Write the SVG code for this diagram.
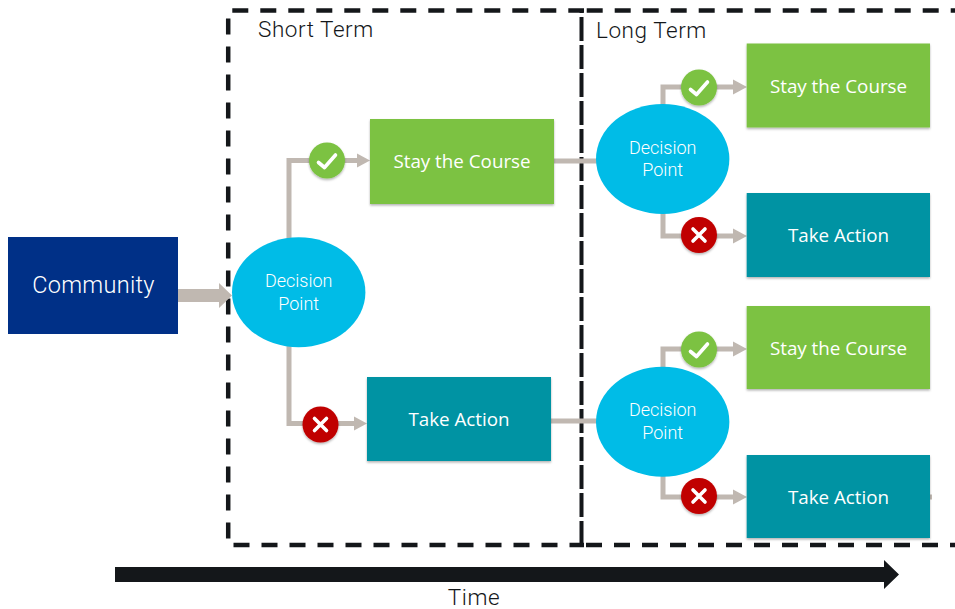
<svg xmlns="http://www.w3.org/2000/svg" width="955" height="609" viewBox="0 0 955 609">
<style>
.dash{fill:none;stroke:#14171a;stroke-width:4.500;stroke-dasharray:16 12}
.mid{fill:none;stroke:#14171a;stroke-width:4;stroke-dasharray:24 4}
.conn{fill:none;stroke:#c0b8b1;stroke-width:5}
.head{fill:#c0b8b1}
.tl{font-family:Roboto,"Liberation Sans",sans-serif;font-weight:300;fill:#fff;text-anchor:middle}
.ol{font-family:"Open Sans","Liberation Sans",sans-serif;fill:#fff;text-anchor:middle;font-size:18.800px}
.lab{font-family:Roboto,"Liberation Sans",sans-serif;font-weight:300;fill:#14171a;font-size:22.500px;letter-spacing:.55px}
.dp{fill:#00bce7}
.green{fill:#7cc243;filter:url(#sh)}
.teal{fill:#0093a3;filter:url(#sh)}
.icon{filter:url(#sh)}
.mark{fill:none;stroke:#fff;stroke-width:3.600;stroke-linecap:round;stroke-linejoin:round}
</style>
<defs>
<filter id="sh" x="-10%" y="-10%" width="120%" height="125%"><feDropShadow dx="0" dy="1.500" stdDeviation="1.200" flood-color="#000" flood-opacity="0.300"/></filter>
</defs>
<g id="regions">
<path class="dash" d="M232.300 10.500H584"/>
<path class="dash" d="M586.700 10.500H955"/>
<path class="dash" d="M233.500 545H584"/>
<path class="dash" d="M586 545H955"/>
<path class="dash" d="M228.200 18.500V540"/>
<path class="mid" d="M581.500 545V11"/>
</g>
<g id="connectors">
<polygon points="178,289 219,289 219,283 232,295.500 219,308 219,302 178,302" class="head"/>
<path class="conn" d="M289 240V160.500H358"/><polygon class="head" points="357,153.500 370,160.500 357,167.500"/>
<path class="conn" d="M289 345V423.500H355"/><polygon class="head" points="354,416.500 367,423.500 354,430.500"/>
<path class="conn" d="M554 161H600M551 421H600"/>
<path class="conn" d="M663 108V87H735"/><polygon class="head" points="733,79.500 747,87 733,94.500"/>
<path class="conn" d="M663 212V236H735"/><polygon class="head" points="733,228.500 747,236 733,243.500"/>
<path class="conn" d="M663 370V349H735"/><polygon class="head" points="733,341.500 747,349 733,356.500"/>
<path class="conn" d="M663 474V497H735"/><polygon class="head" points="733,489.500 747,497 733,504.500"/>
<path class="conn" d="M930 497H932"/>
</g>
<g id="community"><rect x="8" y="237" width="170" height="97" fill="#003087"/><text class="tl" x="93.500" y="293" font-size="23.500" letter-spacing=".3">Community</text></g>
<g id="dp1"><ellipse class="dp" cx="298.700" cy="292.300" rx="66.700" ry="55"/><text class="tl" x="298.700" y="287" font-size="18">Decision</text><text class="tl" x="298.700" y="310" font-size="18">Point</text></g>
<g id="dp2"><ellipse class="dp" cx="662.700" cy="159" rx="66.700" ry="55"/><text class="tl" x="662.700" y="154" font-size="18">Decision</text><text class="tl" x="662.700" y="176" font-size="18">Point</text></g>
<g id="dp3"><ellipse class="dp" cx="662.700" cy="421.800" rx="66.700" ry="55"/><text class="tl" x="662.700" y="416" font-size="18">Decision</text><text class="tl" x="662.700" y="439" font-size="18">Point</text></g>
<g id="stay1"><rect class="green" x="370" y="119" width="184" height="85"/><text class="ol" x="462" y="168">Stay the Course</text></g>
<g id="act1"><rect class="teal" x="367" y="377" width="184" height="84"/><text class="ol" x="459" y="426">Take Action</text></g>
<g id="stay2"><rect class="green" x="746.700" y="43.500" width="183.300" height="84"/><text class="ol" x="838.500" y="92.500">Stay the Course</text></g>
<g id="act2"><rect class="teal" x="746.700" y="193" width="183.300" height="84"/><text class="ol" x="838.500" y="242">Take Action</text></g>
<g id="stay3"><rect class="green" x="746.700" y="306" width="183.300" height="83"/><text class="ol" x="838.500" y="354.500">Stay the Course</text></g>
<g id="act3"><rect class="teal" x="746.700" y="455" width="183.300" height="83"/><text class="ol" x="838.500" y="504">Take Action</text></g>
<g id="ok1" class="icon"><circle cx="327" cy="160.500" r="18" fill="#7cc243"/><path class="mark" d="M318.500 162.500L324.500 167.500L335.500 155"/></g>
<g id="no1" class="icon"><circle cx="320.500" cy="424.500" r="18" fill="#c00000"/><path class="mark" d="M314.500 418.500L326.500 430.500M326.500 418.500L314.500 430.500"/></g>
<g id="ok2" class="icon"><circle cx="699" cy="87.500" r="18" fill="#7cc243"/><path class="mark" d="M690.500 89.500L696.500 94.500L707.500 82"/></g>
<g id="no2" class="icon"><circle cx="699" cy="235" r="18" fill="#c00000"/><path class="mark" d="M693 229L705 241M705 229L693 241"/></g>
<g id="ok3" class="icon"><circle cx="699" cy="349.500" r="18" fill="#7cc243"/><path class="mark" d="M690.500 351.500L696.500 356.500L707.500 344"/></g>
<g id="no3" class="icon"><circle cx="699" cy="496" r="18" fill="#c00000"/><path class="mark" d="M693 490L705 502M705 490L693 502"/></g>
<g id="time"><polygon points="115,567 884,567 884,560 899,574.500 884,589 884,582 115,582" fill="#14171a"/><text class="lab" x="474" y="605" text-anchor="middle">Time</text></g>
<g id="labels"><text class="lab" x="258" y="37">Short Term</text><text class="lab" x="596" y="38">Long Term</text></g>
</svg>
